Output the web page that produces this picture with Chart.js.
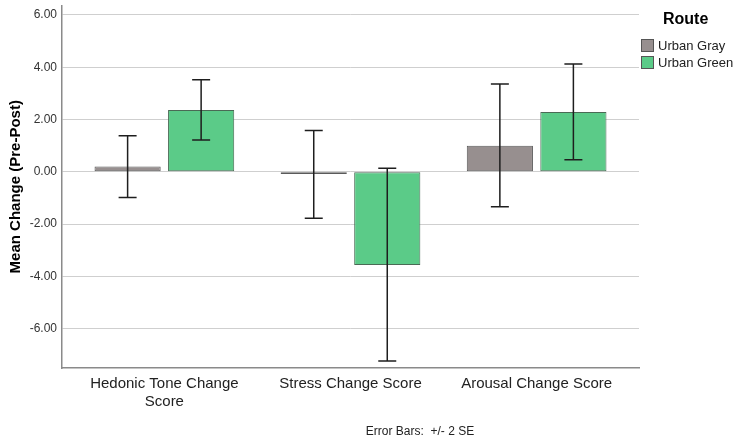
<!DOCTYPE html>
<html lang="en">
<head>
    <meta charset="UTF-8">
    <title>Mean Change by Route</title>
    <style>
        body { margin: 0; background: #fff; }
    </style>
</head>
<body>

<canvas id="myBarChart" width="737" height="440"></canvas>

<script src="https://cdn.jsdelivr.net/npm/chart.js"></script>
<script>
    // chart data
    var categories = [['Hedonic Tone Change', 'Score'], 'Stress Change Score', 'Arousal Change Score'];
    var seriesNames = ['Urban Gray', 'Urban Green'];

    var grayMeans = [0.20, -0.08, 1.00];
    var grayLower = [-0.98, -1.77, -1.33];
    var grayUpper = [1.38, 1.58, 3.36];

    var greenMeans = [2.36, -3.56, 2.29];
    var greenLower = [1.22, -7.23, 0.46];
    var greenUpper = [3.52, 0.14, 4.12];

    var yTicks = [-6, -4, -2, 0, 2, 4, 6];

    var FONT = "Arial, 'Liberation Sans', sans-serif";
    var GRAY = '#978f8f';
    var GREEN = '#5bcb88';

    function toPoints(values) {
        return values.map(function(v, i) { return { x: i, y: v }; });
    }

    // +/- 2 SE whiskers
    var errorBarsPlugin = {
        id: 'errorBars',
        afterDatasetsDraw: function(chart) {
            var ctx = chart.ctx;
            var yScale = chart.scales.y;
            ctx.save();
            ctx.strokeStyle = '#1e1e1e';
            ctx.lineWidth = 1.5;
            chart.data.datasets.forEach(function(ds, di) {
                var meta = chart.getDatasetMeta(di);
                meta.data.forEach(function(bar, i) {
                    var top = yScale.getPixelForValue(ds.upper[i]);
                    var bot = yScale.getPixelForValue(ds.lower[i]);
                    ctx.beginPath();
                    ctx.moveTo(bar.x, top);
                    ctx.lineTo(bar.x, bot);
                    ctx.moveTo(bar.x - 9, top);
                    ctx.lineTo(bar.x + 9, top);
                    ctx.moveTo(bar.x - 9, bot);
                    ctx.lineTo(bar.x + 9, bot);
                    ctx.stroke();
                });
            });
            ctx.restore();
        }
    };

    // legend on the right plus the footnote
    var sideTextPlugin = {
        id: 'sideText',
        afterDraw: function(chart) {
            var ctx = chart.ctx;
            ctx.save();
            ctx.fillStyle = '#000';
            ctx.textBaseline = 'middle';
            ctx.textAlign = 'left';
            ctx.font = 'bold 16px ' + FONT;
            ctx.fillText('Route', 663, 20);

            ctx.font = '13px ' + FONT;
            chart.data.datasets.forEach(function(ds, i) {
                var y = 39 + i * 17;
                ctx.fillStyle = ds.backgroundColor;
                ctx.fillRect(641, y, 13, 13);
                ctx.strokeStyle = '#555';
                ctx.lineWidth = 1;
                ctx.strokeRect(641.5, y + 0.5, 12, 12);
                ctx.fillStyle = '#222';
                ctx.fillText(ds.label, 658, y + 7);
            });

            ctx.font = '12px ' + FONT;
            ctx.fillStyle = '#222';
            ctx.textAlign = 'center';
            ctx.fillText('Error Bars:  +/- 2 SE', 420, 432);
            ctx.restore();
        }
    };

    var ctx = document.getElementById('myBarChart').getContext('2d');
    var myBarChart = new Chart(ctx, {
        type: 'bar',
        data: {
            datasets: [{
                label: seriesNames[0],
                data: toPoints(grayMeans),
                lower: grayLower,
                upper: grayUpper,
                backgroundColor: GRAY,
                borderColor: '#5a5a5a',
                borderWidth: 1,
                borderSkipped: false
            }, {
                label: seriesNames[1],
                data: toPoints(greenMeans),
                lower: greenLower,
                upper: greenUpper,
                backgroundColor: GREEN,
                borderColor: '#4a6a55',
                borderWidth: 1,
                borderSkipped: false
            }]
        },
        options: {
            responsive: false,
            animation: false,
            categoryPercentage: 0.79,
            barPercentage: 0.9,
            layout: { padding: { top: 5.5, right: 98, left: 0, bottom: 0 } },
            plugins: {
                legend: { display: false },
                tooltip: { enabled: false }
            },
            scales: {
                x: {
                    type: 'linear',
                    offset: false,
                    min: -0.55,
                    max: 2.55,
                    afterBuildTicks: function(scale) {
                        scale.ticks = categories.map(function(c, i) { return { value: i }; });
                    },
                    afterFit: function(scale) {
                        scale.height = 72;
                        scale.paddingLeft = 0;
                        scale.paddingRight = 0;
                    },
                    grid: { display: false, drawTicks: false },
                    border: { display: true, color: '#8a8a8a', width: 1.5 },
                    ticks: {
                        autoSkip: false,
                        maxRotation: 0,
                        padding: 7,
                        color: '#222',
                        font: { family: FONT, size: 15, lineHeight: 1.2 },
                        callback: function(value) { return categories[value]; }
                    }
                },
                y: {
                    min: -7.5,
                    max: 6.36,
                    afterBuildTicks: function(scale) {
                        scale.ticks = yTicks.map(function(v) { return { value: v }; });
                    },
                    afterFit: function(scale) {
                        scale.width = 62;
                        scale.paddingTop = 0;
                        scale.paddingBottom = 0;
                    },
                    grid: { color: '#cfcfcf', lineWidth: 1, drawTicks: false },
                    border: { display: true, color: '#8a8a8a', width: 1.5 },
                    ticks: {
                        padding: 5,
                        color: '#333',
                        font: { family: FONT, size: 12 },
                        callback: function(value) { return Number(value).toFixed(2); }
                    },
                    title: {
                        display: true,
                        text: 'Mean Change (Pre-Post)',
                        color: '#000',
                        padding: { top: 7, bottom: 0 },
                        font: { family: FONT, size: 15, weight: 'bold' }
                    }
                }
            }
        },
        plugins: [errorBarsPlugin, sideTextPlugin]
    });
</script>

</body>
</html>
